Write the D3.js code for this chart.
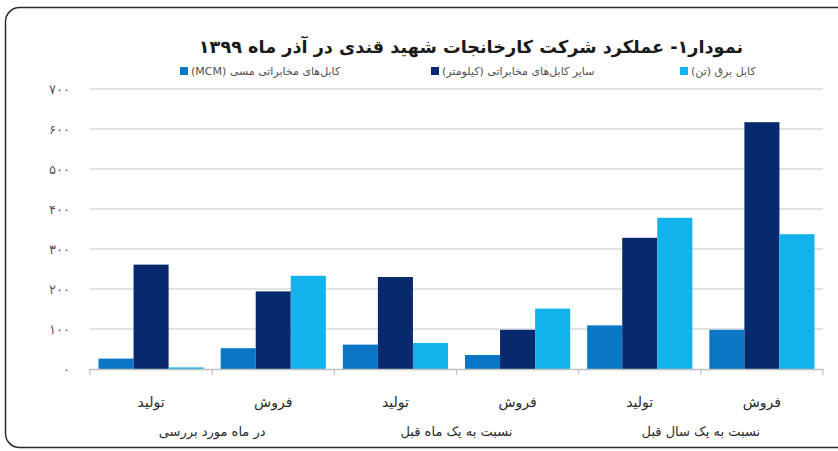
<!DOCTYPE html>
<html>
<head>
<meta charset="utf-8">
<script src="https://cdn.jsdelivr.net/npm/d3@7"></script>
<style>
  body { margin: 0; background: #fff; }
  text { font-family: "DejaVu Sans", sans-serif; }
</style>
</head>
<body>
<div class="canvas"></div>
<script>
const width = 838, height = 451;

// داده‌ها
const categories = ['تولید', 'فروش', 'تولید', 'فروش', 'تولید', 'فروش'];
const groupLabels = ['در ماه مورد بررسی', 'نسبت به یک ماه قبل', 'نسبت به یک سال قبل'];
const seriesNames = ['کابل‌های مخابراتی مسی (MCM)', 'سایر کابل‌های مخابراتی (کیلومتر)', 'کابل برق (تن)'];
const copperCable = [26, 52, 61, 35, 109, 98];
const otherTelecom = [261, 194, 230, 98, 328, 617];
const powerCable = [4, 233, 65, 151, 378, 337];
const yTicks = [0, 100, 200, 300, 400, 500, 600, 700];
const yTickLabels = ['۰', '۱۰۰', '۲۰۰', '۳۰۰', '۴۰۰', '۵۰۰', '۶۰۰', '۷۰۰'];
const colors = ['#0a77c6', '#062a6d', '#12b3ec'];
const title = 'نمودار۱- عملکرد شرکت کارخانجات شهید قندی در آذر ماه ۱۳۹۹';

const seriesValues = [copperCable, otherTelecom, powerCable];

const svg = d3.select('.canvas')
    .append('svg')
    .attr('width', width)
    .attr('height', height);

// قاب دور نمودار
svg.append('rect')
    .attr('x', 5.5)
    .attr('y', 7.5)
    .attr('width', 900)
    .attr('height', 440)
    .attr('rx', 14)
    .attr('fill', 'none')
    .attr('stroke', '#2b2b2b')
    .attr('stroke-width', 1.5);

const margin = { top: 89, right: 15, bottom: 82, left: 90 };
const graphWidth = width - margin.left - margin.right;
const graphHeight = height - margin.top - margin.bottom;

const graph = svg.append('g')
    .attr('transform', `translate(${margin.left}, ${margin.top})`);

const y = d3.scaleLinear()
    .domain([0, 700])
    .range([graphHeight, 0]);

const x0 = d3.scaleBand()
    .domain(d3.range(categories.length))
    .range([0, graphWidth]);

const x1 = d3.scaleBand()
    .domain(d3.range(seriesNames.length))
    .range([8.5, x0.bandwidth() - 8.5]);

// خطوط شبکه
graph.append('g')
    .selectAll('line')
    .data(yTicks.filter(d => d > 0))
    .enter()
    .append('line')
    .attr('x1', 0)
    .attr('x2', graphWidth)
    .attr('y1', d => y(d))
    .attr('y2', d => y(d))
    .attr('stroke', '#d9d9d9')
    .attr('stroke-width', 1.5);

// محور y
const yAxis = d3.axisLeft(y)
    .tickValues(yTicks)
    .tickSize(0)
    .tickPadding(20)
    .tickFormat((d, i) => yTickLabels[i]);

const yAxisGroup = graph.append('g').call(yAxis);
yAxisGroup.select('.domain').remove();
yAxisGroup.selectAll('text')
    .attr('fill', '#595959')
    .attr('font-size', '13px');

// میله‌ها
const groups = graph.selectAll('g.cat')
    .data(categories.map((c, i) => i))
    .enter()
    .append('g')
    .attr('class', 'cat')
    .attr('transform', i => `translate(${x0(i)}, 0)`);

groups.selectAll('rect')
    .data(i => seriesValues.map((vals, s) => ({ s, v: vals[i] })))
    .enter()
    .append('rect')
    .attr('x', d => x1(d.s))
    .attr('width', x1.bandwidth())
    .attr('y', d => y(d.v))
    .attr('height', d => graphHeight - y(d.v))
    .attr('fill', d => colors[d.s]);

// محور x
const xAxisGroup = graph.append('g')
    .attr('transform', `translate(0, ${graphHeight})`);

xAxisGroup.append('line')
    .attr('x1', 0)
    .attr('x2', graphWidth)
    .attr('y1', 0.5)
    .attr('y2', 0.5)
    .attr('stroke', '#bfbfbf')
    .attr('stroke-width', 1.5);

xAxisGroup.selectAll('line.tick')
    .data(d3.range(categories.length + 1))
    .enter()
    .append('line')
    .attr('class', 'tick')
    .attr('x1', i => i * x0.step())
    .attr('x2', i => i * x0.step())
    .attr('y1', 0)
    .attr('y2', 6)
    .attr('stroke', '#bfbfbf')
    .attr('stroke-width', 1.2);

xAxisGroup.selectAll('text.cat')
    .data(categories)
    .enter()
    .append('text')
    .attr('class', 'cat')
    .attr('x', (d, i) => x0(i) + x0.bandwidth() / 2)
    .attr('y', 38)
    .attr('text-anchor', 'middle')
    .attr('direction', 'rtl')
    .attr('fill', '#2a2a2a')
    .attr('font-size', '14px')
    .text(d => d);

xAxisGroup.selectAll('text.group')
    .data(groupLabels)
    .enter()
    .append('text')
    .attr('class', 'group')
    .attr('x', (d, i) => x0(i * 2) + x0.step())
    .attr('y', 67)
    .attr('text-anchor', 'middle')
    .attr('direction', 'rtl')
    .attr('fill', '#2a2a2a')
    .attr('font-size', '13px')
    .text(d => d);

// عنوان
const titleText = svg.append('text')
    .attr('x', 471)
    .attr('y', 53)
    .attr('text-anchor', 'middle')
    .attr('direction', 'rtl')
    .attr('font-weight', 'bold')
    .attr('font-size', '20px')
    .attr('fill', '#1a1a1a')
    .text(title);
const tw = titleText.node().getComputedTextLength();
titleText.attr('font-size', (20 * 545 / tw) + 'px');

// راهنما
const legendX = [184, 435, 684];
const legend = svg.selectAll('g.legend')
    .data(seriesNames)
    .enter()
    .append('g')
    .attr('class', 'legend')
    .attr('transform', (d, i) => `translate(${legendX[i]}, 72)`);

legend.append('rect')
    .attr('x', -4)
    .attr('y', -5)
    .attr('width', 8)
    .attr('height', 8)
    .attr('fill', (d, i) => colors[i]);

legend.append('text')
    .attr('x', 7)
    .attr('y', 3)
    .attr('direction', 'rtl')
    .attr('text-anchor', 'end')
    .attr('fill', '#505050')
    .attr('font-size', '11px')
    .text(d => d);
</script>
</body>
</html>
